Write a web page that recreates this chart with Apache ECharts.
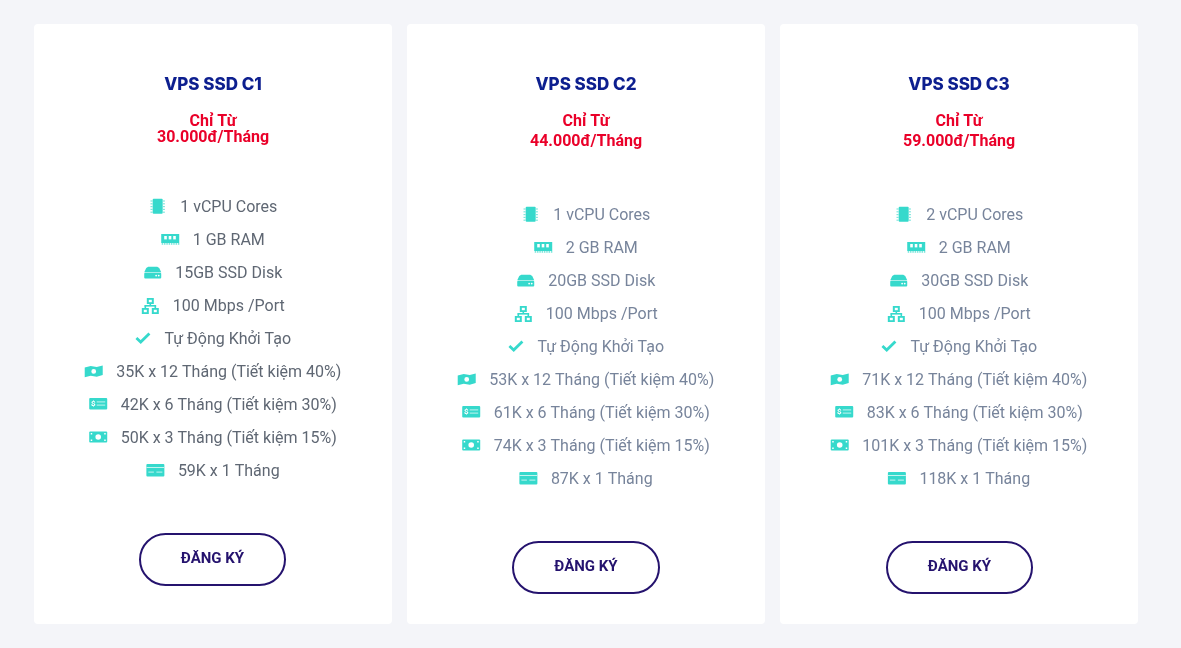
<!DOCTYPE html>
<html>
<head>
<meta charset="utf-8">
<title>VPS SSD</title>
<script src="https://cdn.jsdelivr.net/npm/echarts@6/dist/echarts.min.js"></script>
<style>
html,body{margin:0;padding:0;background:#f4f5f9;}
#main{width:1181px;height:648px;}
</style>
</head>
<body>
<div id="main"></div>
<script>
// plan data
var planNames = ['VPS SSD C1', 'VPS SSD C2', 'VPS SSD C3'];
var priceFrom = 'Chỉ Từ';
var prices = ['30.000đ/Tháng', '44.000đ/Tháng', '59.000đ/Tháng'];
var vcpu = ['1 vCPU Cores', '1 vCPU Cores', '2 vCPU Cores'];
var ram = ['1 GB RAM', '2 GB RAM', '2 GB RAM'];
var disk = ['15GB SSD Disk', '20GB SSD Disk', '30GB SSD Disk'];
var port = ['100 Mbps /Port', '100 Mbps /Port', '100 Mbps /Port'];
var setup = ['Tự Động Khởi Tạo', 'Tự Động Khởi Tạo', 'Tự Động Khởi Tạo'];
var pay12 = ['35K x 12 Tháng (Tiết kiệm 40%)', '53K x 12 Tháng (Tiết kiệm 40%)', '71K x 12 Tháng (Tiết kiệm 40%)'];
var pay6 = ['42K x 6 Tháng (Tiết kiệm 30%)', '61K x 6 Tháng (Tiết kiệm 30%)', '83K x 6 Tháng (Tiết kiệm 30%)'];
var pay3 = ['50K x 3 Tháng (Tiết kiệm 15%)', '74K x 3 Tháng (Tiết kiệm 15%)', '101K x 3 Tháng (Tiết kiệm 15%)'];
var pay1 = ['59K x 1 Tháng', '87K x 1 Tháng', '118K x 1 Tháng'];
var buttonText = 'ĐĂNG KÝ';

var rowLists = [vcpu, ram, disk, port, setup, pay12, pay6, pay3, pay1];
var rowIcons = ['chip', 'ram', 'hdd', 'net', 'check', 'wave', 'bill', 'cash', 'card'];

var TEAL = '#36d9cc', WHITE = '#fff', NAVY = '#0d1f8f', RED = '#ea0029', PURPLE = '#25136e';
var cardLeft = [34, 407, 780];
var cardWidth = 358;
var rowStart = [206, 214, 214];
var priceGap = [16, 20, 20];
var buttonLeft = [140, 513, 887];
var buttonWidth = [145, 146, 145];
var buttonTop = [533, 541, 541];
var textColor = ['#5f6773', '#77849b', '#77849b'];

var myChart = echarts.init(document.getElementById('main'));
var measure = document.createElement('canvas').getContext('2d');
measure.font = '16px Roboto';

function r(x, y, w, h, fill, radius) {
  return {type: 'rect', shape: {x: x, y: y, width: w, height: h, r: radius || 0}, style: {fill: fill || TEAL}};
}
function c(x, y, rad, fill) {
  return {type: 'circle', shape: {cx: x, cy: y, r: rad}, style: {fill: fill || WHITE}};
}
function p(points, fill) {
  return {type: 'polygon', shape: {points: points}, style: {fill: fill || TEAL}};
}
function line(points, w) {
  return {type: 'polyline', shape: {points: points}, style: {stroke: TEAL, lineWidth: w || 1.2, fill: null}};
}

// icons are drawn round (0,0), width is what the row layout reserves
var iconWidth = {chip: 18, ram: 18, hdd: 18, net: 18, check: 16, wave: 18, bill: 18, cash: 18, card: 18};
function iconParts(name) {
  var a = [], i;
  if (name == 'chip') {
    a.push(r(-5, -7.2, 10, 15, TEAL, 1));
    for (i = 0; i < 5; i++) {
      a.push(r(-7.2, -5.6 + i * 2.8, 2.2, 1.2, '#7fe6dd'));
      a.push(r(5, -5.6 + i * 2.8, 2.2, 1.2, '#7fe6dd'));
    }
  } else if (name == 'ram') {
    a.push(r(-9, -5, 18, 9, TEAL));
    a.push(r(-6, -3, 2.6, 3.4, WHITE), r(-1.5, -3, 2.6, 3.4, WHITE), r(3, -3, 2.6, 3.4, WHITE));
    for (i = 0; i < 8; i++) a.push(r(-8.5 + i * 2.3, 4, 1.5, 1.8, '#7fe6dd'));
  } else if (name == 'hdd') {
    a.push(p([[-4.5, -5.2], [4.5, -5.2], [6.5, -4], [8.5, 0.2], [-8.5, 0.2], [-6.5, -4]]));
    a.push(r(-8.5, 0.8, 17, 5.6, TEAL, 1));
    a.push(c(3.4, 3.6, 0.9), c(6, 3.6, 0.9));
  } else if (name == 'net') {
    a.push(r(-3.5, -7, 7, 6, TEAL), r(-1.5, -5.2, 3, 2.4, WHITE));
    a.push(r(-8.5, 3, 7, 6, TEAL), r(-6.5, 4.8, 3, 2.4, WHITE));
    a.push(r(1.5, 3, 7, 6, TEAL), r(3.5, 4.8, 3, 2.4, WHITE));
    a.push(r(-0.8, -1.5, 1.6, 2.5, TEAL), r(-5.8, 0, 11.6, 1.6, TEAL), r(-5.8, 0.5, 1.6, 2.5, TEAL), r(4.2, 0.5, 1.6, 2.5, TEAL));
  } else if (name == 'check') {
    a.push(line([[-6.5, 0], [-2.2, 4], [6.5, -4.5]], 2.8));
  } else if (name == 'wave') {
    a.push(p([[-9, -3.6], [-3, -5], [3, -4], [9, -5.6], [9, 4], [3, 5.8], [-3, 4.8], [-9, 6.2]]));
    a.push(c(0, 0.4, 2.4));
  } else if (name == 'bill') {
    a.push(r(-9, -6, 18, 11.5, TEAL, 1));
    a.push({type: 'text', style: {x: -5, y: -0.2, text: '$', fill: WHITE, font: 'bold 8px Roboto', textAlign: 'center', textVerticalAlign: 'middle'}});
    a.push(r(-1.5, -2.6, 8.5, 1, '#c4f4ef'), r(-1.5, 0.6, 8.5, 1, '#c4f4ef'));
  } else if (name == 'cash') {
    a.push(r(-9, -5.5, 18, 11, TEAL, 1));
    a.push(c(0, 0, 2.8));
    a.push(r(-7.5, -4, 1.5, 1.5, WHITE), r(6, -4, 1.5, 1.5, WHITE), r(-7.5, 2.5, 1.5, 1.5, WHITE), r(6, 2.5, 1.5, 1.5, WHITE));
  } else if (name == 'card') {
    a.push(r(-9, -6, 18, 12.5, TEAL, 1));
    a.push(r(-9, -3, 18, 1, '#c4f4ef'));
    a.push(r(-7, 1.6, 5.5, 1, '#c4f4ef'), r(1, 1.6, 6, 1, '#c4f4ef'));
  }
  return a;
}

var elements = [];
planNames.forEach(function (name, k) {
  var left = cardLeft[k], mid = left + cardWidth / 2;
  elements.push({type: 'rect', shape: {x: left, y: 24, width: cardWidth, height: 600, r: 4}, style: {fill: WHITE}});
  elements.push({type: 'text', style: {x: mid, y: 85, text: name, fill: NAVY, font: '800 17px Inter', textAlign: 'center', textVerticalAlign: 'middle'}});
  elements.push({type: 'text', style: {x: mid, y: 122, text: priceFrom, fill: RED, font: 'bold 16px Roboto', textAlign: 'center', textVerticalAlign: 'middle'}});
  elements.push({type: 'text', style: {x: mid, y: 122 + priceGap[k], text: prices[k], fill: RED, font: 'bold 16px Roboto', textAlign: 'center', textVerticalAlign: 'middle'}});

  rowLists.forEach(function (list, i) {
    var y = rowStart[k] + i * 33;
    var iw = iconWidth[rowIcons[i]];
    var tw = measure.measureText(list[k]).width;
    var start = mid - (iw + 13.5 + tw) / 2;
    elements.push({type: 'group', x: start + iw / 2, y: y, children: iconParts(rowIcons[i])});
    elements.push({type: 'text', style: {x: start + iw + 13.5, y: y + 2, text: list[k], fill: textColor[k], font: '16px Roboto', textAlign: 'left', textVerticalAlign: 'middle'}});
  });

  elements.push({type: 'rect', shape: {x: buttonLeft[k], y: buttonTop[k] + 1, width: buttonWidth[k], height: 51, r: 25.5}, style: {fill: WHITE, stroke: PURPLE, lineWidth: 2}});
  elements.push({type: 'text', style: {x: buttonLeft[k] + buttonWidth[k] / 2, y: buttonTop[k] + 26, text: buttonText, fill: PURPLE, font: 'bold 15px Roboto', textAlign: 'center', textVerticalAlign: 'middle'}});
});

var option = {
  backgroundColor: '#f4f5f9',
  animation: false,
  graphic: {elements: elements}
};
myChart.setOption(option, true);
</script>
</body>
</html>
